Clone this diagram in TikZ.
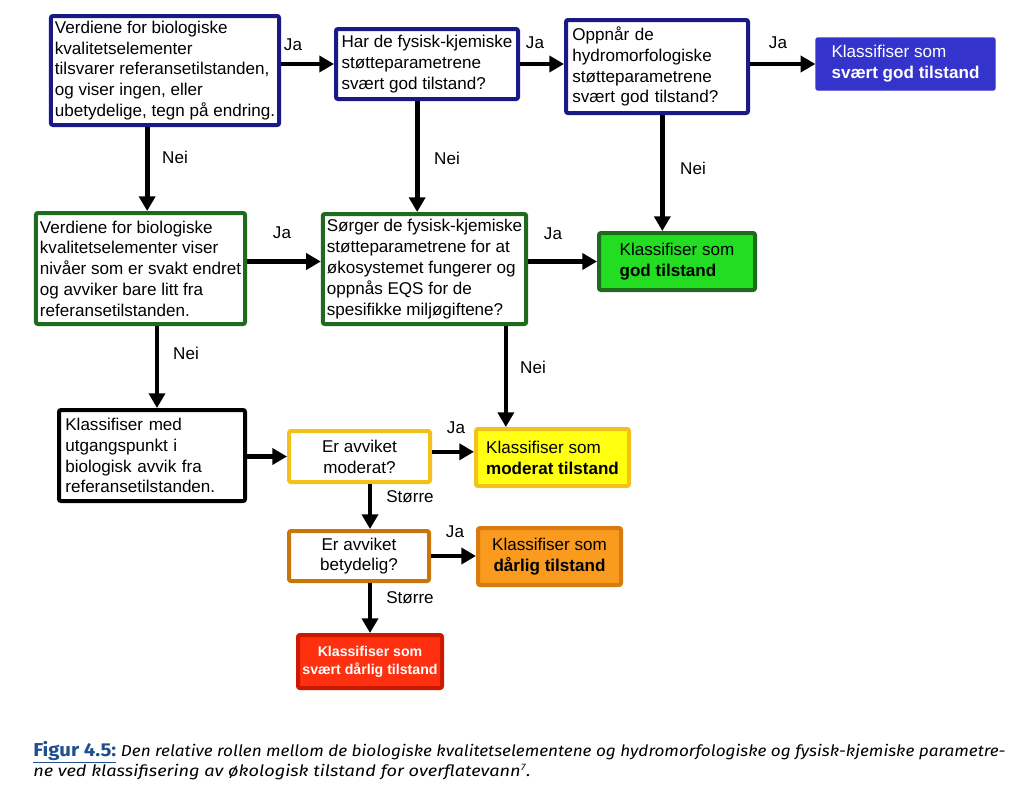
\documentclass[tikz,border=0pt]{standalone}
\usepackage{fontspec}
\usepackage{graphicx}
\usetikzlibrary{arrows.meta}
\newfontfamily\boxfont{Liberation Sans}
\newfontfamily\capfont{Fira Sans}

\definecolor{navyline}{HTML}{1A1A86}
\definecolor{greenline}{HTML}{1E6B1E}
\definecolor{bluefill}{HTML}{3434CC}
\definecolor{greenfill}{HTML}{22DD22}
\definecolor{goldline}{HTML}{F2C21A}
\definecolor{yellowfill}{HTML}{FFFF10}
\definecolor{brownline}{HTML}{C8760A}
\definecolor{orangefill}{HTML}{FA9A1E}
\definecolor{orangeline}{HTML}{D97A10}
\definecolor{redfill}{HTML}{FF3010}
\definecolor{redline}{HTML}{CC1A00}
\definecolor{capblue}{HTML}{1F4F8F}

\tikzset{
  flow/.style={draw, line width=3pt, rounded corners=1.5pt, inner xsep=3pt,
    font={\fontsize{12.8}{15.6}\boxfont}, align=left},
  navybox/.style={flow, draw=navyline, fill=white},
  greenbox/.style={flow, draw=greenline, fill=white},
  blackbox/.style={flow, draw=black, fill=white},
  goldbox/.style={flow, draw=goldline, fill=white, align=center},
  brownbox/.style={flow, draw=brownline, fill=white, align=center},
  arr/.style={line width=3.5pt, -{Triangle[length=11pt,width=12pt]}},
  lbl/.style={font={\fontsize{12.8}{14}\boxfont}, inner sep=0pt}
}

\begin{document}
\begin{tikzpicture}[x=0.75pt, y=-0.75pt]
  \useasboundingbox (0,0) rectangle (1024,789);
  % first row
  \node[navybox, minimum width=169.5pt, minimum height=81.75pt] (bioref) at (165,70.5)
    {Verdiene for biologiske\\ kvalitetselementer\\ tilsvarer referansetilstanden,\\ og viser ingen, eller\\ ubetydelige, tegn på endring.};
  \node[navybox, minimum width=136.5pt, minimum height=52.5pt] (fysgod) at (427,64)
    {Har de fysisk-kjemiske\\ støtteparametrene\\ svært god tilstand?};
  \node[navybox, minimum width=136.5pt, minimum height=69.75pt, text width=127pt] (hydrogod) at (657,66.5)
    {Oppnår de\\ hydromorfologiske\\ støtteparametrene\\ svært god tilstand?};
  \node[flow, draw=bluefill, fill=bluefill, text=white, line width=1pt, minimum width=134.25pt, minimum height=39pt] (sgod) at (905.5,64)
    {Klassifiser som\\ \textbf{svært god tilstand}};
  % second row
  \node[greenbox, minimum width=155.25pt, minimum height=83.25pt] (bioendret) at (140.5,268.5)
    {Verdiene for biologiske\\ kvalitetselementer viser\\ nivåer som er svakt endret\\ og avviker bare litt fra\\ referansetilstanden.};
  \node[greenbox, minimum width=150.75pt, minimum height=82.5pt] (fyseqs) at (424.5,269)
    {Sørger de fysisk-kjemiske\\ støtteparametrene for at\\ økosystemet fungerer og\\ oppnås EQS for de\\ spesifikke miljøgiftene?};
  \node[flow, draw=greenline, fill=greenfill, minimum width=117pt, minimum height=42.75pt] (god) at (677,261.5)
    {Klassifiser som\\ \textbf{god tilstand}};
  % third row and below
  \node[blackbox, minimum width=139.5pt, minimum height=68.25pt, text width=130pt] (bioavvik) at (152,455.5)
    {Klassifiser med\\ utgangspunkt i\\ biologisk avvik fra\\ referansetilstanden.};
  \node[goldbox, minimum width=105.75pt, minimum height=38.25pt] (moderatq) at (359.5,456.5)
    {Er avviket\\ moderat?};
  \node[flow, draw=goldline, fill=yellowfill, minimum width=114.75pt, minimum height=42.75pt] (moderat) at (552.5,457.5)
    {Klassifiser som\\ \textbf{moderat tilstand}};
  \node[brownbox, minimum width=105pt, minimum height=37.5pt] (betydq) at (359,556)
    {Er avviket\\ betydelig?};
  \node[flow, draw=orangeline, fill=orangefill, align=center, minimum width=107.25pt, minimum height=42.75pt] (darlig) at (549.5,556.5)
    {Klassifiser som\\ \textbf{dårlig tilstand}};
  \node[flow, draw=redline, fill=redfill, text=white, align=center, font={\fontsize{10.6}{13.5}\boxfont\bfseries},
    minimum width=108pt, minimum height=39.75pt] (sdarlig) at (370,661.5)
    {Klassifiser som\\ svært dårlig tilstand};

  % arrows
  \draw[arr] (bioref.east |- fysgod.west) -- (fysgod.west);
  \draw[arr] (fysgod.east) -- (fysgod.east -| hydrogod.west);
  \draw[arr] (hydrogod.east |- sgod.west) -- (sgod.west);
  \draw[arr] ([xshift=5pt]bioref.south -| bioendret.north) -- ([xshift=5pt]bioendret.north);
  \draw[arr] ([xshift=-5.5pt]fysgod.south -| fyseqs.north) -- ([xshift=-5.5pt]fyseqs.north);
  \draw[arr] ([xshift=-11pt]hydrogod.south -| god.north) -- ([xshift=-11pt]god.north);
  \draw[arr] (bioendret.east |- god.west) -- (fyseqs.west |- god.west);
  \draw[arr] (fyseqs.east |- god.west) -- (god.west);
  \draw[arr] ([xshift=3.75pt]bioendret.south -| bioavvik.north) -- ([xshift=3.75pt]bioavvik.north);
  \draw[arr] ([xshift=-35pt]fyseqs.south -| moderat.north) -- ([xshift=-35pt]moderat.north);
  \draw[arr] (bioavvik.east |- moderatq.west) -- (moderatq.west);
  \draw[arr] ([yshift=3.5pt]moderatq.east) -- ([yshift=3.5pt]moderatq.east -| moderat.west);
  \draw[arr] (moderatq.south -| sdarlig.north) -- (betydq.north -| sdarlig.north);
  \draw[arr] (betydq.east) -- (betydq.east -| darlig.west);
  \draw[arr] (betydq.south -| sdarlig.north) -- (sdarlig.north);

  % arrow labels
  \node[lbl] (ja1) at (293,45) {Ja};
  \node[lbl] (ja2) at (535,43) {Ja};
  \node[lbl] (ja3) at (778,43) {Ja};
  \node[lbl] (nei1) at (175,157) {Nei};
  \node[lbl] (nei2) at (447,158) {Nei};
  \node[lbl] (nei3) at (693,168) {Nei};
  \node[lbl] (ja4) at (282,233) {Ja};
  \node[lbl] (ja5) at (553,234) {Ja};
  \node[lbl] (nei4) at (186,353) {Nei};
  \node[lbl] (nei5) at (533,367) {Nei};
  \node[lbl] (ja6) at (456,428) {Ja};
  \node[lbl] (storre1) at (410,497) {Større};
  \node[lbl] (ja7) at (455,532) {Ja};
  \node[lbl] (storre2) at (410,598) {Større};

  % caption
  \node[anchor=base west, inner sep=0pt, font={\fontsize{11.8}{13}\capfont}] (cap1) at (33,756)
    {\resizebox{729pt}{\height}{\textcolor{capblue}{\fontsize{14}{15}\selectfont\bfseries\underline{Figur 4.5:}} \itshape Den relative rollen mellom de biologiske kvalitetselementene og hydromorfologiske og fysisk-kjemiske parametre-}};
  \node[anchor=base west, inner sep=0pt, font={\fontsize{11.8}{13}\capfont}] (cap2) at (33,776)
    {\resizebox{373pt}{\height}{\itshape ne ved klassifisering av økologisk tilstand for overflatevann\textsuperscript{\fontsize{7}{8}\selectfont 7}.}};
\end{tikzpicture}
\end{document}
